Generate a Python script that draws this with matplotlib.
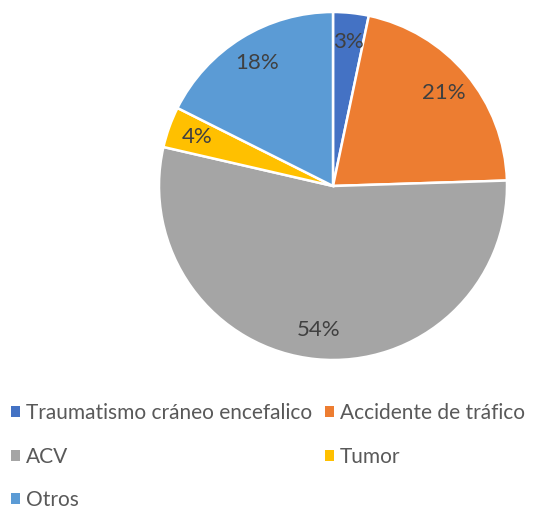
import matplotlib.pyplot as plt
from matplotlib.patches import Patch

# data (share of cases, %)
categorias = ['Traumatismo cráneo encefalico', 'Accidente de tráfico', 'ACV', 'Tumor', 'Otros']
valores = [3.3, 21.2, 54.1, 3.8, 17.6]
colores = ['#4472C4', '#ED7D31', '#A5A5A5', '#FFC000', '#5B9BD5']

plt.rcParams['font.family'] = ['Lato', 'DejaVu Sans']

fig = plt.figure(figsize=(5.6, 5.13), dpi=100)

# pie centred at (333, 186) px with radius 174 px
cx, cy, r = 333, 186, 174
W, H = 560, 513
ax = fig.add_axes([(cx - r) / W, (H - cy - r) / H, 2 * r / W, 2 * r / H])

wedges, texts, autotexts = ax.pie(
    valores, colors=colores, startangle=90, counterclock=False,
    autopct='%1.0f%%', pctdistance=0.83,
    wedgeprops=dict(edgecolor='white', linewidth=1.8),
    textprops=dict(color='#404040', fontsize=16))
ax.set_xlim(-1, 1)
ax.set_ylim(-1, 1)
ax.set_aspect('equal')
ax.axis('off')

# legend, row-wise like Excel
orden = [0, 2, 4, 1, 3]
handles = [Patch(facecolor=colores[i], edgecolor='none') for i in orden]
labels = [categorias[i] for i in orden]
fig.legend(handles, labels, ncol=2, loc='upper left',
           bbox_to_anchor=(9 / W, 1 - 401 / H), frameon=False,
           fontsize=15, labelcolor='#595959',
           handlelength=0.45, handleheight=0.45, handletextpad=0.28,
           columnspacing=0.6, labelspacing=1.13, borderaxespad=0, borderpad=0.1)

fig.savefig('out.png', dpi=100, facecolor='white')
